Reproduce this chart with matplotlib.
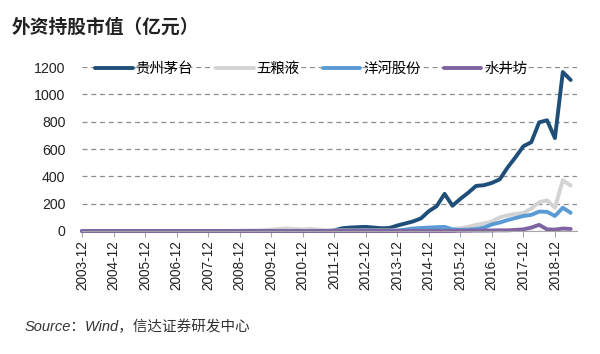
import matplotlib
matplotlib.use('Agg')
import matplotlib.pyplot as plt

plt.rcParams['font.family'] = ['Liberation Sans', 'Noto Sans CJK SC', 'DejaVu Sans']

# 季度数据：2003-12 ... 2019-06
years = list(range(2003, 2019))
year_labels = ['%d-12' % y for y in years]

moutai = [0] * 32 + [
    5, 20, 25, 28, 30, 25, 20, 22,          # 2011-12 .. 2013-09
    40, 55, 70, 92, 145, 182, 272, 185,     # 2013-12 .. 2015-09
    235, 280, 330, 335, 352, 378, 465, 540,  # 2015-12 .. 2017-09
    620, 650, 795, 810, 680, 1163, 1105,     # 2017-12 .. 2019-06
]
wuliangye = [0] * 20 + [
    2, 3, 4, 6,
    10, 15, 18, 15, 12, 15, 10, 6,
    4, 4, 4, 4, 4, 4, 4, 4,
    5, 5, 6, 6, 8, 8, 10, 10,
    20, 30, 45, 55, 70, 100, 115, 125,
    132, 165, 210, 225, 170, 372, 332,
]
yanghe = [0] * 40 + [
    3, 10, 18, 22, 25, 28, 30, 12,
    8, 10, 15, 25, 48, 62, 80, 95,
    110, 118, 142, 140, 110, 170, 133,
]
shuijingfang = [0] * 48 + [
    2, 2, 3, 3, 4, 5, 5, 8,
    12, 25, 45, 12, 10, 18, 15,
]

series = [
    ('贵州茅台', moutai, '#1f4e79'),
    ('五粮液', wuliangye, '#d3d3d3'),
    ('洋河股份', yanghe, '#5b9bd5'),
    ('水井坊', shuijingfang, '#8064a2'),
]

fig = plt.figure(figsize=(6.0, 3.54), dpi=100)
ax = fig.add_axes([82 / 600, 1 - 231 / 354, 495 / 600, 164 / 354])

for name, vals, color in series:
    ax.plot(range(len(vals)), vals, color=color, lw=2.8, label=name,
            solid_capstyle='round', solid_joinstyle='round', clip_on=False)

ax.set_ylim(0, 1200)
ax.set_xlim(0, 62.8)
ax.set_yticks(range(0, 1201, 200))
ax.set_xticks([4 * i for i in range(len(years))])
ax.set_xticklabels(year_labels, rotation=90)
ax.tick_params(axis='y', length=0, labelsize=10.2, colors='#222222', pad=12)
ax.tick_params(axis='x', length=4, width=0.8, color='#a6a6a6', labelsize=9.8,
               labelcolor='#222222', pad=3)
ax.yaxis.grid(True, linestyle=(0, (4, 3)), color='#8c8c8c', lw=0.9)
ax.set_axisbelow(True)
for s in ['top', 'right', 'left']:
    ax.spines[s].set_visible(False)
ax.spines['bottom'].set_color('#a6a6a6')

ax.legend(loc='center left', bbox_to_anchor=(13 / 495, 1.0 - 2 / 164), ncol=4,
          frameon=False, fontsize=10.4, handlelength=2.6, handletextpad=0.2,
          columnspacing=1.6, borderaxespad=0, borderpad=0)

fig.text(12 / 600, 1 - 28 / 354, '外资持股市值（亿元）', fontsize=13.5,
         fontweight='bold', va='center', ha='left', color='#222222')
fig.text(25 / 600, 1 - 327 / 354, 'Source：Wind，信达证券研发中心', fontsize=10.5,
         style='italic', va='center', ha='left', color='#333333')

fig.savefig('out.png', dpi=100)
